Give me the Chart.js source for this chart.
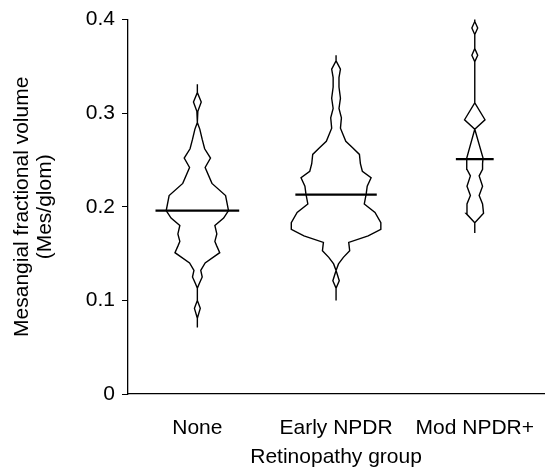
<!DOCTYPE html>
<html>
<head>
<meta charset="utf-8">
<script src="https://cdn.jsdelivr.net/npm/chart.js@4.4.1/dist/chart.umd.min.js"></script>
<style>
  html, body { margin: 0; padding: 0; background: #fff; }
  canvas { display: block; }
</style>
</head>
<body>
<canvas id="chart" width="556" height="472"></canvas>
<script>
// groups on the x axis
const categories = ['None', 'Early NPDR', 'Mod NPDR+'];
const medians = [0.196, 0.213, 0.251];

// y axis ticks
const yTicks = [0, 0.1, 0.2, 0.3, 0.4];
const yTickLabels = ['0', '0.1', '0.2', '0.3', '0.4'];

// violin outlines: value levels and relative half-width (density) at each level
const noneVals = [0.331, 0.322, 0.312, 0.302, 0.290, 0.283, 0.272, 0.262, 0.252, 0.242, 0.225, 0.212, 0.196, 0.188, 0.180, 0.171, 0.163, 0.158, 0.151, 0.140, 0.132, 0.125, 0.118, 0.113, 0.100, 0.0915, 0.081, 0.071];
const noneDens = [0, 0, 4, 0.5, 0, 2.5, 5, 7.5, 13.5, 8, 15, 29, 32, 27, 18, 20, 18, 20, 23, 8, 3.5, 5, 2, 0, 0, 3, 0, 0];

const earlyVals = [0.362, 0.356, 0.347, 0.338, 0.328, 0.316, 0.305, 0.295, 0.284, 0.270, 0.263, 0.256, 0.246, 0.238, 0.231, 0.222, 0.214, 0.203, 0.194, 0.183, 0.176, 0.169, 0.162, 0.153, 0.146, 0.139, 0.132, 0.121, 0.113, 0.100];
const earlyDens = [0, 0, 4.5, 3, 3, 4.5, 3, 5.5, 4.5, 10, 17, 24, 25, 27, 36, 32, 31, 29, 40, 46, 46, 33, 13, 14, 7.5, 2.5, 0, 3.3, 0, 0];

const modVals = [0.401, 0.398, 0.391, 0.384, 0.369, 0.362, 0.355, 0.311, 0.293, 0.283, 0.252, 0.246, 0.240, 0.233, 0.222, 0.212, 0.203, 0.193, 0.183, 0.172];
const modDens = [0, 0, 3, 0, 0, 3, 0, 0, 10.5, 0, 8.5, 8, 8, 4.5, 8, 4.5, 8, 9, 0, 0];

const groupVals = [noneVals, earlyVals, modVals];
const groupDens = [noneDens, earlyDens, modDens];

const W = 1 / 142.5;      // density unit -> x units
const MEDIAN_EXTRA = 11;  // median bar sticks out past the outline

function outline(c, vals, dens) {
  const right = vals.map((v, i) => ({ x: c + dens[i] * W, y: v }));
  const left = vals.map((v, i) => ({ x: c - dens[i] * W, y: v })).reverse();
  return right.concat(left, [right[0]]);
}

function densAt(vals, dens, m) {
  for (let i = 0; i < vals.length - 1; i++) {
    if (m <= vals[i] && m >= vals[i + 1]) {
      const t = (vals[i] - m) / (vals[i] - vals[i + 1]);
      return dens[i] + t * (dens[i + 1] - dens[i]);
    }
  }
  return 0;
}

const datasets = [];
categories.forEach((name, i) => {
  const c = i + 1;
  datasets.push({
    label: name,
    data: outline(c, groupVals[i], groupDens[i]),
    showLine: true,
    borderColor: '#000',
    borderWidth: 1.4,
    pointRadius: 0
  });
  const half = (densAt(groupVals[i], groupDens[i], medians[i]) + MEDIAN_EXTRA) * W;
  datasets.push({
    label: name + ' median',
    data: [{ x: c - half, y: medians[i] }, { x: c + half, y: medians[i] }],
    showLine: true,
    borderColor: '#000',
    borderWidth: 2.2,
    pointRadius: 0
  });
});

const font = { family: '"Liberation Sans", Arial, Helvetica, sans-serif', size: 21 };

new Chart(document.getElementById('chart'), {
  type: 'scatter',
  data: { datasets },
  options: {
    responsive: false,
    animation: false,
    layout: { padding: { left: 0, right: 0, top: 18, bottom: 0 } },
    plugins: { legend: { display: false }, tooltip: { enabled: false } },
    elements: { line: { tension: 0, fill: false } },
    scales: {
      x: {
        type: 'linear',
        min: 0.5,
        max: 3.5,
        afterBuildTicks: (s) => { s.ticks = categories.map((_, i) => ({ value: i + 1 })); },
        afterFit: (s) => { s.height = 78; },
        ticks: {
          callback: (v, i) => categories[i],
          font, color: '#000', padding: 22, maxRotation: 0, autoSkip: false
        },
        grid: { display: true, drawOnChartArea: false, drawTicks: false },
        border: { color: '#000', width: 1.3 },
        title: {
          display: true, text: 'Retinopathy group', color: '#000',
          font: { ...font, lineHeight: 1.2 }, padding: { top: 0, bottom: 2 }
        }
      },
      y: {
        min: 0,
        max: 0.4,
        afterBuildTicks: (s) => { s.ticks = yTicks.map((v) => ({ value: v })); },
        afterFit: (s) => { s.width = 128; },
        ticks: {
          callback: (v, i) => yTickLabels[i],
          font, color: '#000', padding: 7
        },
        grid: { display: true, drawOnChartArea: false, drawTicks: true, tickLength: 6, tickColor: '#000', tickWidth: 1 },
        border: { color: '#000', width: 1.3 },
        title: {
          display: true, text: ['Mesangial fractional volume', '(Mes/glom)'], color: '#000',
          font: { ...font, lineHeight: 1.1 }, padding: { top: 11, bottom: 0 }
        }
      }
    }
  }
});
</script>
</body>
</html>
